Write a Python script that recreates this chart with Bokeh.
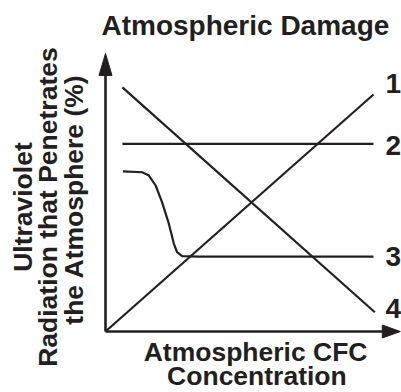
import numpy as np
from bokeh.plotting import figure
from bokeh.models import Range1d, ColumnDataSource, Label
from bokeh.core.properties import value
from bokeh.embed import file_html
from bokeh.resources import INLINE

# ---- data (schematic) ----
x_axis_end = 11.0
y_axis_end = 11.73

line1_x = [0.0, 10.0]
line1_y = [0.0, 10.0]

line2_x = [0.63, 10.0]
line2_y = [7.92, 7.92]

line3_x = [0.65, 1.37, 1.62, 1.87, 2.11, 2.36, 2.55, 2.67, 2.86, 3.47, 10.0]
line3_y = [6.76, 6.72, 6.58, 6.16, 5.46, 4.56, 3.71, 3.35, 3.18, 3.16, 3.16]

line4_x = [0.63, 10.05]
line4_y = [10.30, 0.81]

series_labels = ["1", "2", "3", "4"]
series_label_y = [10.47, 7.85, 3.18, 0.95]

title_text = "Atmospheric Damage"
x_label_lines = ["Atmospheric CFC", "Concentration"]
y_label_lines = ["Ultraviolet", "Radiation that Penetrates", "the Atmosphere (%)"]

INK = "#231f20"
FONT = "Liberation Sans"

W, H = 401, 392
# pixel scale: 26.8 px per x unit, 23.7 px per y unit; origin at pixel (105, 331)
px_x, px_y = 26.8, 23.7
x0 = -105 / px_x
y1 = 331 / px_y

p = figure(width=W, height=H, output_backend="svg", toolbar_location=None,
           x_range=Range1d(x0, x0 + W / px_x), y_range=Range1d(y1 - H / px_y, y1),
           x_axis_type=None, y_axis_type=None, min_border=0)
p.outline_line_color = None
p.grid.visible = False
p.background_fill_color = "white"
p.border_fill_color = "white"

# axes with arrow heads
p.line([0, 0], [0, y_axis_end - 0.6], line_color=INK, line_width=2.6)
p.line([0, x_axis_end - 0.5], [0, 0], line_color=INK, line_width=2.6)
hy_len, hy_half = 22 / px_y, 6.5 / px_x
hx_len, hx_half = 18 / px_x, 6.5 / px_y
p.patch([0, -hy_half, hy_half], [y_axis_end, y_axis_end - hy_len, y_axis_end - hy_len],
        fill_color=INK, line_color=INK)
p.patch([x_axis_end, x_axis_end - hx_len, x_axis_end - hx_len], [0, hx_half, -hx_half],
        fill_color=INK, line_color=INK)

for xs, ys in [(line1_x, line1_y), (line2_x, line2_y), (line3_x, line3_y), (line4_x, line4_y)]:
    p.line(xs, ys, line_color=INK, line_width=2.2, line_join="round")

# series numbers
src = ColumnDataSource(dict(x=[10.45] * 4, y=series_label_y, t=series_labels))
p.text(x="x", y="y", text="t", source=src, text_font=value(FONT), text_font_style="bold",
       text_font_size="28px", text_color=INK, text_align="left", text_baseline="middle")

# title
p.add_layout(Label(x=5.22, y=12.90, text=title_text, text_font=FONT, text_font_style="bold",
                   text_font_size="28px", text_color=INK, text_align="center",
                   text_baseline="middle"))
# x label
p.add_layout(Label(x=5.6, y=-0.86, text=x_label_lines[0], text_font=FONT, text_font_style="bold",
                   text_font_size="26.5px", text_color=INK, text_align="center",
                   text_baseline="middle"))
p.add_layout(Label(x=5.65, y=-1.89, text=x_label_lines[1], text_font=FONT, text_font_style="bold",
                   text_font_size="26.5px", text_color=INK, text_align="center",
                   text_baseline="middle"))
# y label (rotated)
for t, lx, ly in zip(y_label_lines, [-3.09, -2.16, -1.18], [5.25, 5.25, 5.57]):
    p.add_layout(Label(x=lx, y=ly, text=t, angle=np.pi / 2, text_font=FONT,
                       text_font_style="bold", text_font_size="26.5px", text_color=INK,
                       text_align="center", text_baseline="middle"))

open("out.html", "w").write(file_html(p, INLINE))
